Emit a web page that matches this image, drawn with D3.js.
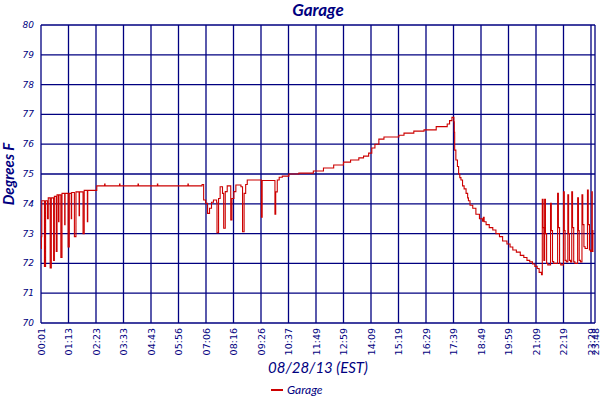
<!DOCTYPE html>
<html><head><meta charset="utf-8">
<script src="https://cdn.jsdelivr.net/npm/d3@7"></script>
<style>body{margin:0;background:#fff}svg{display:block}</style>
</head><body>
<svg id="c" width="600" height="400"></svg>
<script>
// Tick labels (category axis) and their times in minutes after midnight
const tickLabels = ["00:01","01:13","02:23","03:33","04:43","05:56","07:06","08:16","09:26","10:37","11:49","12:59","14:09","15:19","16:29","17:39","18:49","19:59","21:09","22:19","23:29","23:48"];
const tickMinutes = [1,73,143,213,283,356,426,496,566,637,709,779,849,919,989,1059,1129,1199,1269,1339,1409,1428];
const yTicks = [70,71,72,73,74,75,76,77,78,79,80];

// Garage temperature readings: time (minutes) and value (deg F)
const times = [1,2,3,10,13,18,20,25,28,34,36,41,43,47,48,53,56,63,64,72,75,80,81,88,92,100,101,110,113,121,122,145,
  165,166,203,204,250,251,300,301,380,381,416,420,425,430,435,440,445,453,454,458,462,468,471,475,480,489,492,497,502,515,519,523,527,531,564,567,569,600,602,604,608,613,621,638,
  664,702,728,754,779,797,818,830,843,851,859,869,882,920,933,958,984,1015,1043,1049,1055,1060,
  1061,1062,1065,1069,1072,1075,1078,1082,1086,1091,1095,1097,1101,1108,1116,1125,1133,1135,1137,1142,1150,1159,1167,1176,1184,1195,1203,1210,1219,1229,1238,1246,1253,1260,1266,1272,1277,1283,
  1285,1287,1289,1291,1293,1296,1299,1306,1308,1311,1314,1324,1326,1329,1332,1339,1341,1343,1346,1350,1352,1354,1357,1360,1362,1365,1368,1375,1377,1379,1382,1386,1388,1391,1394,1400,1402,1405,1408,1413,1415,1418,1421,1425,1427,1428];
const values = [72.5,72.9,74.1,71.9,74.1,73.5,74.2,71.85,74.2,72.1,74.25,72.4,74.3,73.4,74.3,72.2,74.35,73.3,74.35,72.55,74.35,73.5,74.38,72.9,74.4,73.6,74.4,73.0,74.45,73.4,74.45,74.6,
  74.66,74.6,74.66,74.6,74.66,74.6,74.66,74.6,74.66,74.6,74.65,74.13,74.02,73.68,73.85,74.05,74.13,74.05,73.03,74.18,74.57,74.35,73.18,74.41,74.6,73.46,74.18,74.41,74.63,74.57,73.06,74.35,74.65,74.8,74.8,73.55,74.78,74.78,73.65,74.4,74.8,74.89,74.93,75.0,
  75.03,75.1,75.2,75.3,75.4,75.47,75.54,75.6,75.7,75.87,76.0,76.17,76.24,76.3,76.37,76.44,76.48,76.59,76.68,76.79,76.9,76.75,
  76.4,75.8,75.47,75.25,75.0,74.88,74.8,74.6,74.5,74.35,74.2,74.1,73.95,73.85,73.65,73.5,73.42,73.55,73.4,73.3,73.2,73.12,73.0,72.9,72.75,72.65,72.55,72.45,72.38,72.27,72.2,72.1,72.05,71.98,71.9,71.83,71.7,71.62,
  74.15,73.2,72.1,74.15,73.0,72.0,71.95,74.02,73.1,72.06,72.0,74.35,73.2,72.0,71.95,74.4,73.1,72.1,72.05,74.3,73.0,72.1,72.05,74.4,73.2,72.05,72.0,74.2,73.1,72.1,72.05,74.3,73.3,72.56,72.5,74.46,73.3,72.45,72.4,74.4,73.1,72.4];
const seriesName = "Garage";

const navy = "#000080", red = "#cc0000";
const L = 41, R = 595, T = 25, B = 323;
const svg = d3.select("#c");

const tickPx = tickMinutes.map((m, i) => i < tickMinutes.length - 1 ? L + i * 27.5 : R);
const x = d3.scaleLinear().domain(tickMinutes).range(tickPx);
const y = d3.scaleLinear().domain([70, 80]).range([B, T]);

// grid
const g = svg.append("g");
g.selectAll(".hg").data(yTicks).join("line")
  .attr("x1", L).attr("x2", R).attr("y1", d => y(d)).attr("y2", d => y(d))
  .attr("stroke", navy).attr("stroke-width", 1.3);
g.selectAll(".vg").data(tickMinutes).join("line")
  .attr("x1", d => x(d)).attr("x2", d => x(d)).attr("y1", T).attr("y2", B)
  .attr("stroke", navy).attr("stroke-width", 1.3);

// y tick labels
svg.append("g").selectAll("text").data(yTicks).join("text")
  .attr("x", 34).attr("y", d => y(d) + 3)
  .attr("text-anchor", "end").attr("font-family", "DejaVu Sans").attr("font-style", "italic")
  .attr("font-size", 9).attr("fill", navy).text(d => d);

// x tick labels (rotated)
svg.append("g").selectAll("text").data(tickMinutes).join("text")
  .attr("transform", (d, i) => `translate(${x(d) + 3.5},${B + 5}) rotate(-90)`)
  .attr("text-anchor", "end").attr("font-family", "DejaVu Sans")
  .attr("font-size", 9.5).attr("fill", navy).text((d, i) => tickLabels[i]);

// line
const data = times.map((t, i) => ({t, v: values[i]}));
svg.append("path").datum(data)
  .attr("d", d3.line().x(d => x(d.t)).y(d => y(d.v)).curve(d3.curveStepAfter))
  .attr("fill", "none").attr("stroke", red).attr("stroke-width", 1.1);

// titles
svg.append("text").attr("x", 318).attr("y", 16).attr("text-anchor", "middle")
  .attr("font-family", "Lato, 'Open Sans', sans-serif").attr("font-style", "italic").attr("font-weight", "bold")
  .attr("font-size", 17).attr("fill", navy).text(seriesName);
svg.append("text").attr("x", 318).attr("y", 373).attr("text-anchor", "middle")
  .attr("font-family", "Lato, 'Open Sans', sans-serif").attr("font-style", "italic")
  .attr("font-size", 15).attr("fill", navy).text("08/28/13 (EST)");
svg.append("text").attr("transform", "translate(14,174) rotate(-90)").attr("text-anchor", "middle")
  .attr("font-family", "Lato, 'Open Sans', sans-serif").attr("font-style", "italic").attr("font-weight", "bold")
  .attr("font-size", 15).attr("fill", navy).text("Degrees F");

// legend
svg.append("line").attr("x1", 271).attr("x2", 283).attr("y1", 390).attr("y2", 390)
  .attr("stroke", red).attr("stroke-width", 2);
svg.append("text").attr("x", 287).attr("y", 394)
  .attr("font-family", "Lato, 'Open Sans', sans-serif").attr("font-style", "italic")
  .attr("font-size", 12).attr("fill", navy).text(seriesName);
</script>
</body></html>
